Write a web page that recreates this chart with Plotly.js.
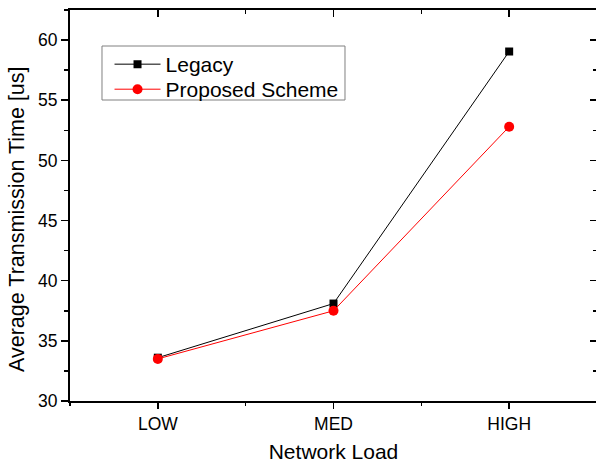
<!DOCTYPE html>
<html>
<head>
<meta charset="utf-8">
<script src="https://cdn.plot.ly/plotly-3.0.1.min.js"></script>
<style>
html,body{margin:0;padding:0;overflow:hidden;background:#fff;}
#chart{width:598px;height:463px;}
</style>
</head>
<body>
<div id="chart"></div>
<script>
// Data
const categories = ["LOW", "MED", "HIGH"];
const legacy = [33.6, 38.1, 59.05];
const proposed = [33.5, 37.5, 52.8];
const yTickVals = [30, 35, 40, 45, 50, 55, 60];
const xTitle = "Network Load";
const yTitle = "Average Transmission Time [us]";

const xIdx = categories.map((c, i) => i);
const FONT = "Liberation Sans, Arial, sans-serif";

const traces = [
  {
    x: xIdx, y: legacy, name: "Legacy", type: "scatter", mode: "lines+markers",
    xaxis: "x", yaxis: "y", legend: "legend",
    line: {color: "#000000", width: 1},
    marker: {symbol: "square", size: 8, color: "#000000"}
  },
  {
    x: xIdx, y: proposed, name: "Proposed Scheme", type: "scatter", mode: "lines+markers",
    xaxis: "x2", yaxis: "y2", legend: "legend2",
    line: {color: "#ff0000", width: 1},
    marker: {symbol: "circle", size: 10, color: "#ff0000"}
  }
];

const xr = [-0.5, 2.5];
const yr = [30, 62.5];

const legendBase = {
  xanchor: "left", yanchor: "top",
  bgcolor: "rgba(0,0,0,0)", borderwidth: 0,
  font: {family: FONT, size: 21, color: "#000000"},
  itemwidth: 46
};

const tickStyle = {showgrid: false, zeroline: false, showline: true, linecolor: "#000", linewidth: 2, tickcolor: "#000", tickwidth: 1.5};

const layout = {
  width: 598, height: 463,
  margin: {l: 70, r: 1, t: 10, b: 62},
  paper_bgcolor: "#ffffff", plot_bgcolor: "#ffffff",
  font: {family: FONT, color: "#000000"},
  showlegend: true,
  legend: Object.assign({}, legendBase, {x: 0.075, y: 0.913}),
  legend2: Object.assign({}, legendBase, {x: 0.075, y: 0.849}),
  shapes: [{
    type: "rect", xref: "paper", yref: "paper", layer: "below",
    x0: 0.0607, x1: 0.5218, y0: 0.7698, y1: 0.9079,
    line: {color: "#808080", width: 1}, fillcolor: "#ffffff"
  }],
  annotations: [{
    text: yTitle, textangle: -90, showarrow: false,
    xref: "paper", yref: "paper", x: -0.101, y: 0.465,
    xanchor: "center", yanchor: "middle",
    font: {family: FONT, size: 21.5, color: "#000000"}
  }],
  xaxis: Object.assign({}, tickStyle, {
    range: xr, tickmode: "array", tickvals: xIdx, ticktext: categories,
    ticks: "outside", ticklen: 6,
    tickfont: {family: FONT, size: 17.5},
    minor: {tickmode: "linear", tick0: 0.5, dtick: 1, ticks: "outside", ticklen: 3, tickwidth: 1.5, tickcolor: "#000", showgrid: false},
    title: {text: xTitle, font: {family: FONT, size: 21}, standoff: 17},
    automargin: false
  }),
  yaxis: Object.assign({}, tickStyle, {
    range: yr, tickmode: "array", tickvals: yTickVals,
    ticks: "outside", ticklen: 7,
    tickfont: {family: FONT, size: 17.5},
    minor: {tickmode: "linear", tick0: 32.5, dtick: 5, ticks: "outside", ticklen: 4, tickwidth: 1.5, tickcolor: "#000", showgrid: false},
    automargin: false
  }),
  xaxis2: Object.assign({}, tickStyle, {
    overlaying: "x", side: "top", anchor: "y2", range: xr,
    tickmode: "array", tickvals: xIdx, showticklabels: false,
    ticks: "inside", ticklen: 7,
    minor: {tickmode: "linear", tick0: 0.5, dtick: 1, ticks: "inside", ticklen: 4, tickwidth: 1.5, tickcolor: "#000", showgrid: false}
  }),
  yaxis2: Object.assign({}, tickStyle, {
    overlaying: "y", side: "right", anchor: "x2", range: yr,
    tickmode: "array", tickvals: yTickVals, showticklabels: false,
    ticks: "inside", ticklen: 7,
    minor: {tickmode: "linear", tick0: 32.5, dtick: 5, ticks: "inside", ticklen: 4, tickwidth: 1.5, tickcolor: "#000", showgrid: false}
  })
};

Plotly.newPlot("chart", traces, layout, {displayModeBar: false, staticPlot: true});
</script>
</body>
</html>
